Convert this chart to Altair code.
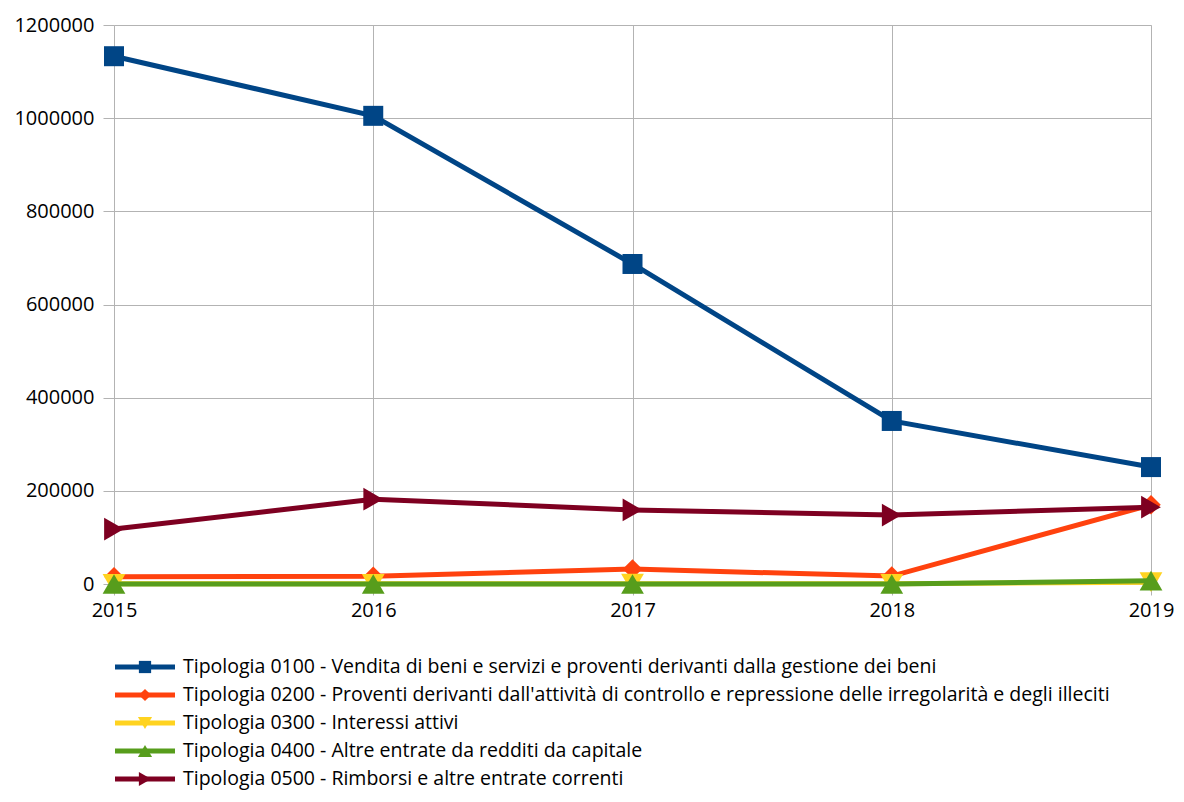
import altair as alt
import pandas as pd

years = [2015, 2016, 2017, 2018, 2019]
series_names = [
    "Tipologia 0100 - Vendita di beni e servizi e proventi derivanti dalla gestione dei beni",
    "Tipologia 0200 - Proventi derivanti dall'attività di controllo e repressione delle irregolarità e degli illeciti",
    "Tipologia 0300 - Interessi attivi",
    "Tipologia 0400 - Altre entrate da redditi da capitale",
    "Tipologia 0500 - Rimborsi e altre entrate correnti",
]
v0100 = [1133000, 1005000, 687000, 350000, 251000]
v0200 = [15500, 16500, 32000, 17000, 170000]
v0300 = [500, 400, 600, 300, 4000]
v0400 = [0, 0, 0, 0, 7000]
v0500 = [118000, 182000, 159000, 148000, 165000]
all_values = [v0100, v0200, v0300, v0400, v0500]
y_ticks = [0, 200000, 400000, 600000, 800000, 1000000, 1200000]

colors = ["#004586", "#ff420e", "#ffd320", "#579d1c", "#7e0021"]
shapes = ["square", "diamond", "triangle-down", "triangle-up", "triangle-right"]
sizes = [400, 380, 520, 520, 520]
leg_sizes = [150, 150, 200, 200, 200]

FONT = "'Open Sans', Lato, sans-serif"

W, H = 1037, 559

rows = []
for name, vals in zip(series_names, all_values):
    for yr, v in zip(years, vals):
        rows.append({"series": name, "year": yr, "value": v})
df = pd.DataFrame(rows)

x_enc = alt.X("year:Q", scale=alt.Scale(domain=[2015, 2019], nice=False, zero=False),
              axis=alt.Axis(values=years, format="d", title=None, grid=True, gridColor="#b3b3b3",
                            domain=False, tickColor="#b3b3b3", tickSize=11, labelPadding=5,
                            labelFlush=False, labelOverlap=False,
                            labelFontSize=20, labelFont=FONT, labelColor="#000000"))
y_enc = alt.Y("value:Q", scale=alt.Scale(domain=[0, 1200000], nice=False),
              axis=alt.Axis(values=y_ticks, format="d", title=None, grid=True, gridColor="#b3b3b3",
                            domain=False, tickColor="#b3b3b3", tickSize=11, labelPadding=9,
                            labelFlush=False,
                            labelFontSize=20, labelFont=FONT, labelColor="#000000"))

layers = []
for i, name in enumerate(series_names):
    d = df[df.series == name]
    base = alt.Chart(d)
    line = base.mark_line(color=colors[i], strokeWidth=5).encode(x=x_enc, y=y_enc)
    pts = base.mark_point(color=colors[i], filled=True, opacity=1, shape=shapes[i],
                          size=sizes[i]).encode(x=x_enc, y=y_enc)
    layers += [line, pts]
plot = alt.layer(*layers).resolve_scale(y="shared", x="shared")

# legend below the plot
leg_df = pd.DataFrame({"series": series_names, "size": leg_sizes})
leg_y = alt.Y("series:N", sort=series_names,
              scale=alt.Scale(type="point", domain=series_names, range=[642, 754], padding=0),
              axis=None)
leg_color = alt.Color("series:N", scale=alt.Scale(domain=series_names, range=colors), legend=None)
leg_shape = alt.Shape("series:N", scale=alt.Scale(domain=series_names, range=shapes), legend=None)
leg_base = alt.Chart(leg_df)
leg_rule = leg_base.mark_rule(strokeWidth=5).encode(
    x=alt.value(1), x2=alt.value(61), y=leg_y, color=leg_color)
leg_pts = leg_base.mark_point(filled=True, opacity=1).encode(
    x=alt.value(31), y=leg_y, color=leg_color, shape=leg_shape,
    size=alt.Size("size:Q", scale=None, legend=None))
leg_text = leg_base.mark_text(align="left", baseline="middle", fontSize=19.5, font=FONT,
                              color="#000000").encode(
    x=alt.value(69), y=leg_y, text="series:N")
legend = alt.layer(leg_rule, leg_pts, leg_text).resolve_scale(y="shared")

chart = alt.layer(plot, legend).resolve_scale(
    y="independent"
).properties(
    width=W, height=H,
    autosize=alt.AutoSizeParams(type="none"),
    padding={"left": 106, "top": 17, "right": 24, "bottom": 210},
).configure_view(stroke=None).configure(background="#ffffff")

chart.save("out.html", embed_options={"renderer": "svg", "actions": False})
